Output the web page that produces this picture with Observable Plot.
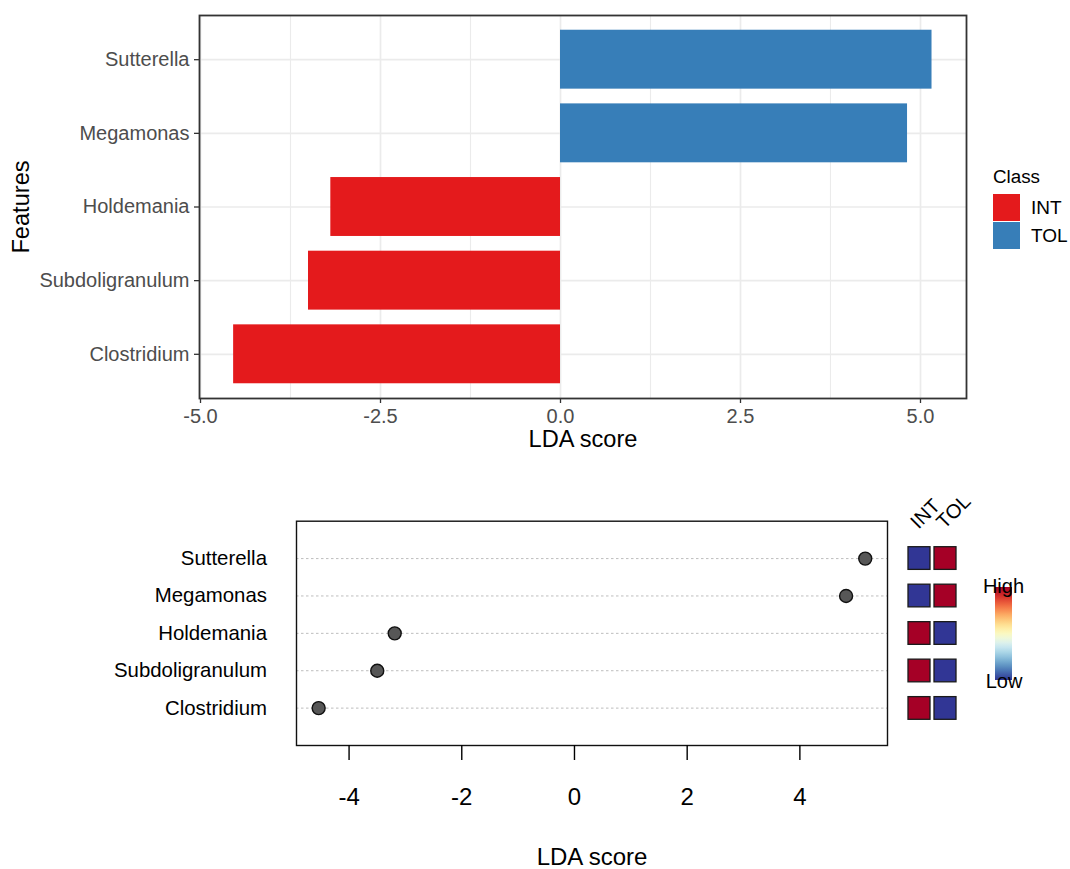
<!DOCTYPE html>
<html>
<head>
<meta charset="utf-8">
<script src="https://cdn.jsdelivr.net/npm/d3@7"></script>
<script src="https://cdn.jsdelivr.net/npm/@observablehq/plot@0.6"></script>
<style>
  html, body { margin: 0; padding: 0; background: #fff; }
  #root { position: relative; width: 1070px; height: 869px; overflow: hidden;
          font-family: "Liberation Sans", Arial, Helvetica, sans-serif; }
  #root > svg { position: absolute; background: transparent !important; max-width: none !important; }
</style>
</head>
<body>
<div id="root"></div>
<script>
// ---- data ----
const features = ["Sutterella", "Megamonas", "Holdemania", "Subdoligranulum", "Clostridium"];
const classes = ["INT", "TOL"];
const featureClass = ["TOL", "TOL", "INT", "INT", "INT"];
const ldaScores = [5.16, 4.82, -3.19, -3.50, -4.54];
const classColors = ["#E41A1C", "#377EB8"];
// scaled abundance of each feature in each class (Low = -1, High = 1)
const intLevel = [-1, -1, 1, 1, 1];
const tolLevel = [1, 1, -1, -1, -1];
const barTicks = [-5, -2.5, 0, 2.5, 5];
const barMinorTicks = [-3.75, -1.25, 1.25, 3.75];
const dotTicks = [-4, -2, 0, 2, 4];
const colorbarLabels = ["High", "Low"];

const FONT = "Liberation Sans, Arial, Helvetica, sans-serif";
const root = document.getElementById("root");
const place = (el, left, top) => { el.style.left = left + "px"; el.style.top = top + "px"; root.appendChild(el); };

const rows = features.map((f, i) => ({feature: f, cls: featureClass[i], score: ldaScores[i]}));

// ---- LDA bar chart ----
const bars = Plot.plot({
  width: 1070, height: 460,
  marginLeft: 199, marginRight: 104, marginTop: 15, marginBottom: 62,
  style: {fontFamily: FONT, background: "transparent"},
  x: {domain: [-5.014, 5.639]},
  y: {domain: features, padding: 0.2, round: false},
  color: {domain: classes, range: classColors},
  marks: [
    Plot.gridX(barMinorTicks, {stroke: "#ebebeb", strokeOpacity: 1, strokeWidth: 1.1}),
    Plot.gridX(barTicks, {stroke: "#ebebeb", strokeOpacity: 1, strokeWidth: 1.7}),
    Plot.gridY({stroke: "#ebebeb", strokeOpacity: 1, strokeWidth: 1.7}),
    Plot.barX(rows, {x1: 0, x2: "score", y: "feature", fill: "cls"}),
    Plot.frame({stroke: "#333333", strokeWidth: 1.8}),
    Plot.axisX(barTicks, {tickSize: 5, tickPadding: 5, tickFormat: d => d.toFixed(1),
      fontSize: 20, color: "#4d4d4d", stroke: "#333333", strokeWidth: 1.3, label: null}),
    Plot.axisY({tickSize: 5, tickPadding: 5, fontSize: 20, color: "#4d4d4d",
      stroke: "#333333", strokeWidth: 1.3, label: null}),
    Plot.text(["LDA score"], {text: d => d, frameAnchor: "bottom", textAnchor: "middle",
      lineAnchor: "bottom", dy: 48, fontSize: 23.6, fill: "black"}),
    Plot.text(["Features"], {text: d => d, frameAnchor: "left", textAnchor: "middle",
      lineAnchor: "bottom", rotate: -90, dx: -171, fontSize: 23.6, fill: "black"})
  ]
});
place(bars, 0, 0);

// ---- class legend ----
const legend = d3.create("svg").attr("width", 85).attr("height", 100)
  .style("font-family", FONT).node();
const lg = d3.select(legend);
lg.append("text").attr("x", 8).attr("y", 28).attr("font-size", 18.8).text("Class");
classes.forEach((c, i) => {
  lg.append("rect").attr("x", 8).attr("y", 39 + i * 28).attr("width", 27).attr("height", 27)
    .attr("fill", classColors[i]);
  lg.append("text").attr("x", 46).attr("y", 52.5 + i * 28).attr("dy", "0.35em")
    .attr("font-size", 19).text(c);
});
place(legend, 985, 155);

// ---- LDA dot chart ----
const dots = Plot.plot({
  width: 893, height: 389,
  marginLeft: 296, marginRight: 6, marginTop: 40.7, marginBottom: 124,
  style: {fontFamily: FONT, background: "transparent", color: "black"},
  x: {domain: [-4.933, 5.555]},
  y: {type: "point", domain: features, padding: 1, round: false},
  marks: [
    Plot.ruleY(features, {stroke: "#bdbdbd", strokeWidth: 1, strokeDasharray: "2.5,2.5"}),
    Plot.dot(rows, {x: "score", y: "feature", r: 6.5, fill: "#575757", stroke: "#111", strokeWidth: 1.4}),
    Plot.frame({stroke: "#111", strokeWidth: 1.4}),
    Plot.axisX(dotTicks, {tickSize: 15, tickPadding: 27, tickFormat: d => String(d),
      fontSize: 24, strokeWidth: 1.4, label: null}),
    Plot.axisY({tickSize: 0, tickPadding: 29.5, fontSize: 20.4, label: null}),
    Plot.text(["LDA score"], {text: d => d, frameAnchor: "bottom", textAnchor: "middle",
      lineAnchor: "bottom", dy: 119, fontSize: 24, fill: "black"})
  ]
});
place(dots, 0, 480);

// ---- class abundance tiles ----
const cells = features.flatMap((f, i) => [
  {feature: f, cls: "INT", level: intLevel[i]},
  {feature: f, cls: "TOL", level: tolLevel[i]}
]);
const tiles = Plot.plot({
  width: 85, height: 270,
  marginLeft: 11, marginRight: 22, marginTop: 59.3, marginBottom: 23.3,
  style: {fontFamily: FONT, background: "transparent", overflow: "visible", color: "black"},
  x: {domain: classes, padding: 0, round: false, axis: null},
  y: {domain: features, padding: 0, round: false, axis: null},
  color: {type: "linear", domain: [-1, 1], interpolate: t => d3.interpolateRdYlBu(1 - t)},
  marks: [
    Plot.cell(cells, {x: "cls", y: "feature", fill: "level", stroke: "#1a1a1a", strokeWidth: 1.3,
      insetLeft: 2, insetRight: 2, insetTop: 7.4, insetBottom: 7.4}),
    Plot.text(classes, {x: d => d, text: d => d, frameAnchor: "top", textAnchor: "start",
      lineAnchor: "bottom", rotate: -45, dx: -1, dy: -10, fontSize: 20, fill: "black"})
  ]
});
place(tiles, 895, 480);

// ---- colour key ----
const key = d3.create("svg").attr("width", 95).attr("height", 140)
  .style("font-family", FONT).style("overflow", "visible").node();
const kg = d3.select(key);
const grad = kg.append("defs").append("linearGradient").attr("id", "rdylbu")
  .attr("x1", 0).attr("y1", 0).attr("x2", 0).attr("y2", 1);
d3.range(0, 1.0001, 0.05).forEach(t => {
  grad.append("stop").attr("offset", t).attr("stop-color", d3.interpolateRdYlBu(t));
});
kg.append("rect").attr("x", 20).attr("y", 27).attr("width", 17).attr("height", 93)
  .attr("fill", "url(#rdylbu)");
kg.append("text").attr("x", 28.5).attr("y", 33).attr("text-anchor", "middle")
  .attr("font-size", 20).text(colorbarLabels[0]);
kg.append("text").attr("x", 29).attr("y", 128).attr("text-anchor", "middle")
  .attr("font-size", 20).text(colorbarLabels[1]);
place(key, 975, 560);
</script>
</body>
</html>
